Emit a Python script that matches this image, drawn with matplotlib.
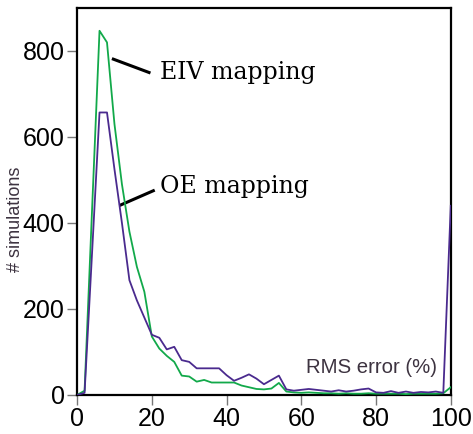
import numpy as np
import matplotlib
matplotlib.use("Agg")
import matplotlib.pyplot as plt

# RMS error bins (%)
rms_error = np.arange(0, 101, 2)

# number of simulations per bin
eiv_counts = [0, 10, 430, 847, 820, 630, 490, 380, 298, 240,
              136, 108, 91, 77, 45, 43, 31, 35, 29, 29,
              29, 29, 22, 18, 14, 13, 15, 28, 8, 6,
              5, 6, 5, 4, 4, 3, 4, 3, 3, 4,
              3, 3, 3, 3, 2, 3, 3, 3, 3, 4,
              18]
oe_counts = [0, 5, 330, 657, 657, 525, 400, 267, 220, 180,
             140, 133, 106, 112, 81, 77, 62, 62, 62, 62,
             46, 33, 40, 48, 38, 25, 35, 45, 13, 10,
             12, 14, 12, 10, 8, 11, 8, 10, 13, 15,
             6, 5, 9, 5, 8, 5, 7, 6, 8, 5,
             440]

green = "#12a94a"
purple = "#4a2a8e"
label_col = "#3d3340"

fig = plt.figure(figsize=(4.73, 4.34), dpi=100)
ax = fig.add_axes([0.163, 0.0899, 0.790, 0.8917])

ax.plot(rms_error, eiv_counts, color=green, lw=1.3, zorder=3)
ax.plot(rms_error, oe_counts, color=purple, lw=1.3, zorder=3)

ax.set_xlim(0, 100)
ax.set_ylim(0, 900)
ax.set_xticks([0, 20, 40, 60, 80, 100])
ax.set_yticks([0, 200, 400, 600, 800])

for s in ax.spines.values():
    s.set_linewidth(1.6)
    s.set_color("black")

ax.tick_params(direction="out", length=7, width=1.0, color="#777777",
               labelsize=18, pad=2)
for lab in ax.get_xticklabels() + ax.get_yticklabels():
    lab.set_fontfamily("Liberation Sans")

ax.set_ylabel("# simulations", fontsize=13, color=label_col,
              family="Liberation Sans")
ax.yaxis.set_label_coords(-0.142, 0.455)

# annotations
ax.plot([9.7, 19.25], [781, 750], color="black", lw=2.2)
ax.text(22.2, 751, "EIV mapping", family="DejaVu Serif", fontsize=17,
        va="center", ha="left")
ax.plot([11.7, 20.4], [442, 475], color="black", lw=2.2)
ax.text(22.2, 484, "OE mapping", family="DejaVu Serif", fontsize=17,
        va="center", ha="left")

ax.text(96.3, 63, "RMS error (%)", family="Liberation Sans", fontsize=14.7,
        color=label_col, ha="right", va="center")

fig.savefig("out.png", dpi=100)
